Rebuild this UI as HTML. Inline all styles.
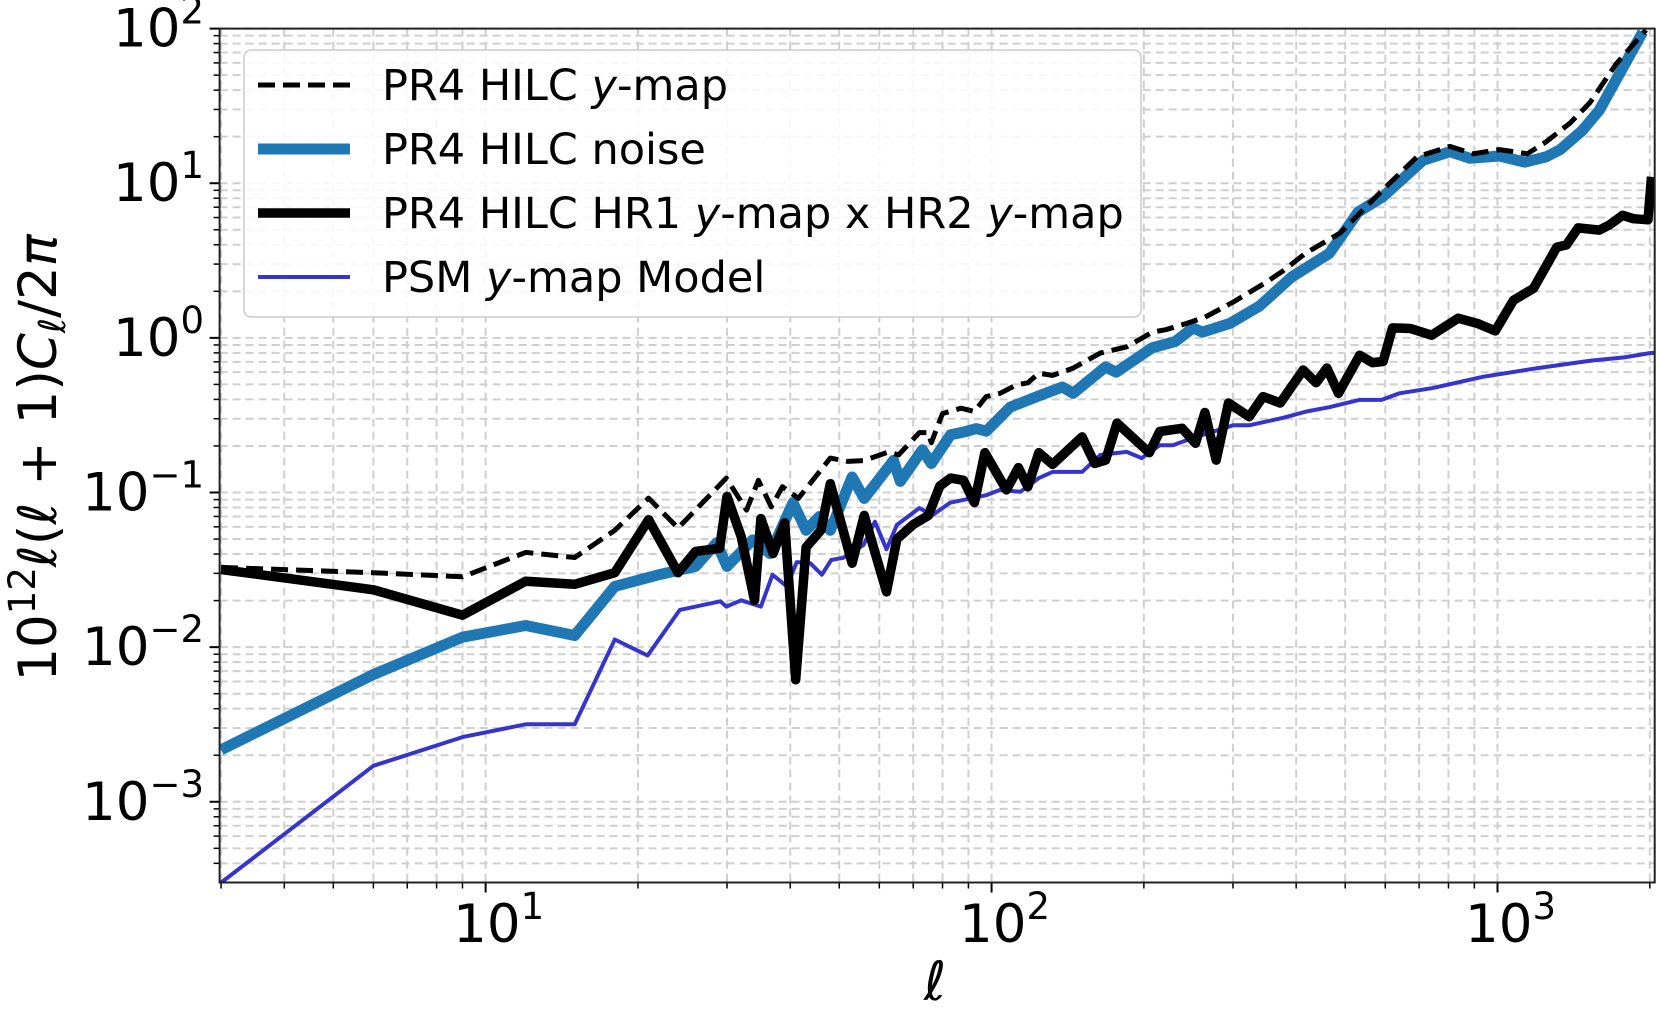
<!DOCTYPE html>
<html><head><meta charset="utf-8">
<style>
html,body{margin:0;padding:0;background:#fff;}
svg{display:block;font-family:"DejaVu Sans","Liberation Sans",sans-serif;}
</style></head>
<body>
<svg id="chart" width="1661" height="1019" viewBox="0 0 1661 1019" xmlns="http://www.w3.org/2000/svg">
<g id="grid"></g>
<g id="series"></g>
<g id="axes"></g>
<g id="legend"></g>
</svg>
<script>
// ---- data ----
const yMapEll = [3,6,9,12,15,18,21,24,29.9,32.8,34.6,36.7,38.6,41.5,48,52,56,62.6,65.5,72,75,76,80,87,92.5,97.6,104,112,118,124,132,145,164,185,208,221,243,264,300,347,378,417,488,594,693,805,895,1009,1145,1247,1391,1521,1718,1966];
const yMapVals = [0.0328,0.0303,0.0285,0.041,0.038,0.057,0.092,0.0589,0.124,0.0769,0.12,0.0807,0.109,0.0916,0.167,0.159,0.161,0.183,0.175,0.244,0.244,0.21,0.324,0.351,0.334,0.417,0.438,0.497,0.512,0.591,0.572,0.638,0.797,0.875,1.09,1.13,1.24,1.36,1.70,2.26,2.73,3.52,4.75,9.1,14.8,17.3,15.5,16.5,15.5,18.5,24.5,33.1,59.4,98];

const noiseEll = [3,6,9,12,15,18,22,26,28.6,30,33.7,36.5,40.5,43,45.7,48,53,56,64,66,73,76,83,87.7,93.3,97.6,108.8,124.2,138,144.9,167.9,176.3,207.7,231,250,261,296,338,392,465,530,594,713,805,882,1009,1132,1247,1330,1472,1590,1936];
const noiseVals = [0.00217,0.00665,0.0116,0.0138,0.0119,0.0247,0.0294,0.0333,0.0472,0.0333,0.0494,0.0403,0.0859,0.057,0.070,0.057,0.126,0.0916,0.161,0.118,0.189,0.154,0.236,0.245,0.259,0.249,0.356,0.423,0.481,0.438,0.648,0.60,0.862,0.949,1.16,1.09,1.24,1.60,2.48,3.52,6.5,8.2,14.1,16.0,14.5,15.0,13.7,14.8,16.5,22.0,29.7,95];

const crossEll = [3,6,9,12,15,18,21,24,26,29,30,32,34,35,37,39,41,43,46,48,53,56,62,65,70,75,79,83,88,92.5,97,107,113,118,124,132,151,160,168,177,205,215,238,253,264,278,294,323,344,372,413,438,460,485,534,566,594,620,673,741,836,912,990,1075,1178,1310,1368,1443,1589,1667,1767,1855,1984,2015];
const crossVals = [0.0318,0.0235,0.0161,0.0267,0.0255,0.0303,0.0667,0.0303,0.0416,0.0436,0.0944,0.0519,0.0201,0.0678,0.0403,0.0637,0.00615,0.0443,0.057,0.114,0.0349,0.0711,0.0228,0.05,0.062,0.071,0.11,0.124,0.12,0.086,0.181,0.104,0.145,0.109,0.181,0.152,0.229,0.154,0.162,0.281,0.181,0.248,0.26,0.208,0.329,0.162,0.379,0.309,0.417,0.379,0.62,0.512,0.638,0.438,0.773,0.692,0.703,1.16,1.15,1.04,1.34,1.24,1.11,1.75,2.09,3.86,3.99,5.14,4.98,5.39,6.2,5.9,5.8,11.0];

const modelEll = [3,6,9,12,15,18,20.9,24.2,29.1,29.9,32,35,36.9,39.4,41.2,43.8,46.2,48.2,50.9,55.8,58.8,62,65,72,76.3,82.8,97.6,103.9,114,124,132,151,164,185,198,215,228,250,300,323,377,419,465,533,590,640,742,940,1200,1530,1780,2000,2045];
const modelVals = [0.0003,0.00171,0.00262,0.00317,0.00317,0.0112,0.00883,0.0174,0.0198,0.0183,0.0201,0.0183,0.0294,0.0247,0.0355,0.0349,0.0294,0.0366,0.0378,0.0457,0.0647,0.0429,0.0617,0.0794,0.0711,0.0859,0.096,0.104,0.101,0.124,0.136,0.136,0.175,0.183,0.167,0.202,0.202,0.225,0.272,0.272,0.304,0.334,0.356,0.397,0.397,0.438,0.473,0.562,0.638,0.713,0.748,0.797,0.80];

const yTickExps = [-3,-2,-1,0,1,2];
const xTickExps = [1,2,3];
const legendLabels = [["PR4 HILC ","y","-map"],["PR4 HILC noise"],["PR4 HILC HR1 ","y","-map x HR2 ","y","-map"],["PSM ","y","-map Model"]];

// ---- layout ----
const L=219.6, R=1654.7, T=28.6, B=882.5;
const xMin=Math.log10(2.98), xMax=Math.log10(2045);
const yMin=-3.522, yMax=2;
const NS="http://www.w3.org/2000/svg";
function X(v){return L+(Math.log10(v)-xMin)/(xMax-xMin)*(R-L);}
function Y(v){return B-(Math.log10(v)-yMin)/(yMax-yMin)*(B-T);}
function mk(tag,attrs,parent){const e=document.createElementNS(NS,tag);for(const k in attrs)e.setAttribute(k,attrs[k]);if(parent)parent.appendChild(e);return e;}

const grid=document.getElementById('grid');
const axes=document.getElementById('axes');
const series=document.getElementById('series');
const legend=document.getElementById('legend');

for(let d=0;d<=3;d++){
  for(let m=1;m<=9;m++){
    const v=m*Math.pow(10,d);
    const lv=Math.log10(v);
    if(lv<xMin||lv>xMax)continue;
    const x=X(v);
    const gl=mk('line',{x1:x,x2:x,y1:T,y2:B,stroke:'#cfcfcf','stroke-width':2,'stroke-dasharray':'8,5'},grid);
    
    
    const tk=mk('line',{x1:x,x2:x,y1:B,y2:B+(m===1?10:6),stroke:'#000','stroke-width':m===1?2:1.5},axes);
    
    
  }
}
for(let d=-4;d<=2;d++){
  for(let m=1;m<=9;m++){
    const v=m*Math.pow(10,d);
    const lv=Math.log10(v);
    if(lv<yMin-1e-9||lv>yMax+1e-9)continue;
    const y=Y(v);
    const gl=mk('line',{x1:L,x2:R,y1:y,y2:y,stroke:'#cfcfcf','stroke-width':2,'stroke-dasharray':'8,5'},grid);
    
    
    const tk=mk('line',{x1:L-(m===1?10:6),x2:L,y1:y,y2:y,stroke:'#000','stroke-width':m===1?2:1.5},axes);
    
    
  }
}

function poly(xs,ys,attrs,name){
  const pts=xs.map((x,i)=>X(x).toFixed(1)+','+Y(ys[i]).toFixed(1)).join(' ');
  const p=mk('polyline',Object.assign({points:pts,fill:'none','stroke-linejoin':'round'},attrs),series);
  
  
}
const clip=mk('clipPath',{id:'pc'},document.getElementById('chart'));
mk('rect',{x:L,y:T,width:R-L,height:B-T},clip);
series.setAttribute('clip-path','url(#pc)');
poly(modelEll,modelVals,{stroke:'#3535cc','stroke-width':4},'psm-model-line');
poly(noiseEll,noiseVals,{stroke:'#1f77b4','stroke-width':11},'noise-line');
poly(crossEll,crossVals,{stroke:'#000','stroke-width':9.5},'cross-spectrum-line');
poly(yMapEll,yMapVals,{stroke:'#000','stroke-width':5,'stroke-dasharray':'17,8'},'ymap-line');

const fr=mk('rect',{x:L,y:T,width:R-L,height:B-T,fill:'none',stroke:'#222','stroke-width':2},axes);



yTickExps.forEach(e=>{
  const y=Y(Math.pow(10,e));
  const t=mk('text',{x:204,y:y+18,'text-anchor':'end','font-size':53,fill:'#000'},axes);
  
  
  const a=mk('tspan',{},t);a.textContent='10';
  const s=mk('tspan',{dy:-23,'font-size':37},t);s.textContent=(e<0?'\u2212':'')+Math.abs(e);
});
xTickExps.forEach(e=>{
  const x=X(Math.pow(10,e));
  const t=mk('text',{x:x+13,y:942,'text-anchor':'middle','font-size':53,fill:'#000'},axes);
  
  
  const a=mk('tspan',{},t);a.textContent='10';
  const s=mk('tspan',{dy:-23,'font-size':37},t);s.textContent=String(e);
});

const xl=mk('text',{x:935,y:1000,'text-anchor':'middle','font-size':54,'font-style':'italic',fill:'#000'},axes);


xl.textContent='\u2113';
const yl=mk('text',{x:0,y:0,'text-anchor':'middle','font-size':53,fill:'#000',transform:'translate(56,458) rotate(-90)'},axes);


(function(){
  const parts=[['10',{}],['12',{dy:-21,'font-size':37}],['\u2113',{dy:21,'font-style':'italic'}],['(',{}],['\u2113',{'font-style':'italic'}],[' + 1)',{}],['C',{'font-style':'italic'}],['\u2113',{dy:9,'font-size':37,'font-style':'italic'}],['/2',{dy:-9}],['\u03c0',{'font-style':'italic'}]];
  parts.forEach(p=>{const s=mk('tspan',p[1],yl);s.textContent=p[0];});
})();

const lb=mk('rect',{x:244,y:50,width:897,height:267,rx:7,fill:'#fff','fill-opacity':0.85,stroke:'#cccccc','stroke-width':1.5},legend);


const handles=[{stroke:'#000','stroke-width':5,'stroke-dasharray':'17,8'},{stroke:'#1f77b4','stroke-width':11},{stroke:'#000','stroke-width':9.5},{stroke:'#3535cc','stroke-width':4}];
const rows=[85,149,213,277];
legendLabels.forEach((lab,i)=>{
  const g=mk('g',{},legend);
  
  
  mk('line',Object.assign({x1:258,x2:350,y1:rows[i],y2:rows[i]},handles[i]),g);
  const t=mk('text',{x:382,y:rows[i]+15,'font-size':43,fill:'#000'},g);
  lab.forEach(s=>{const sp=mk('tspan',s==='y'?{'font-style':'italic'}:{},t);sp.textContent=s;});
});
</script>
</body></html>
